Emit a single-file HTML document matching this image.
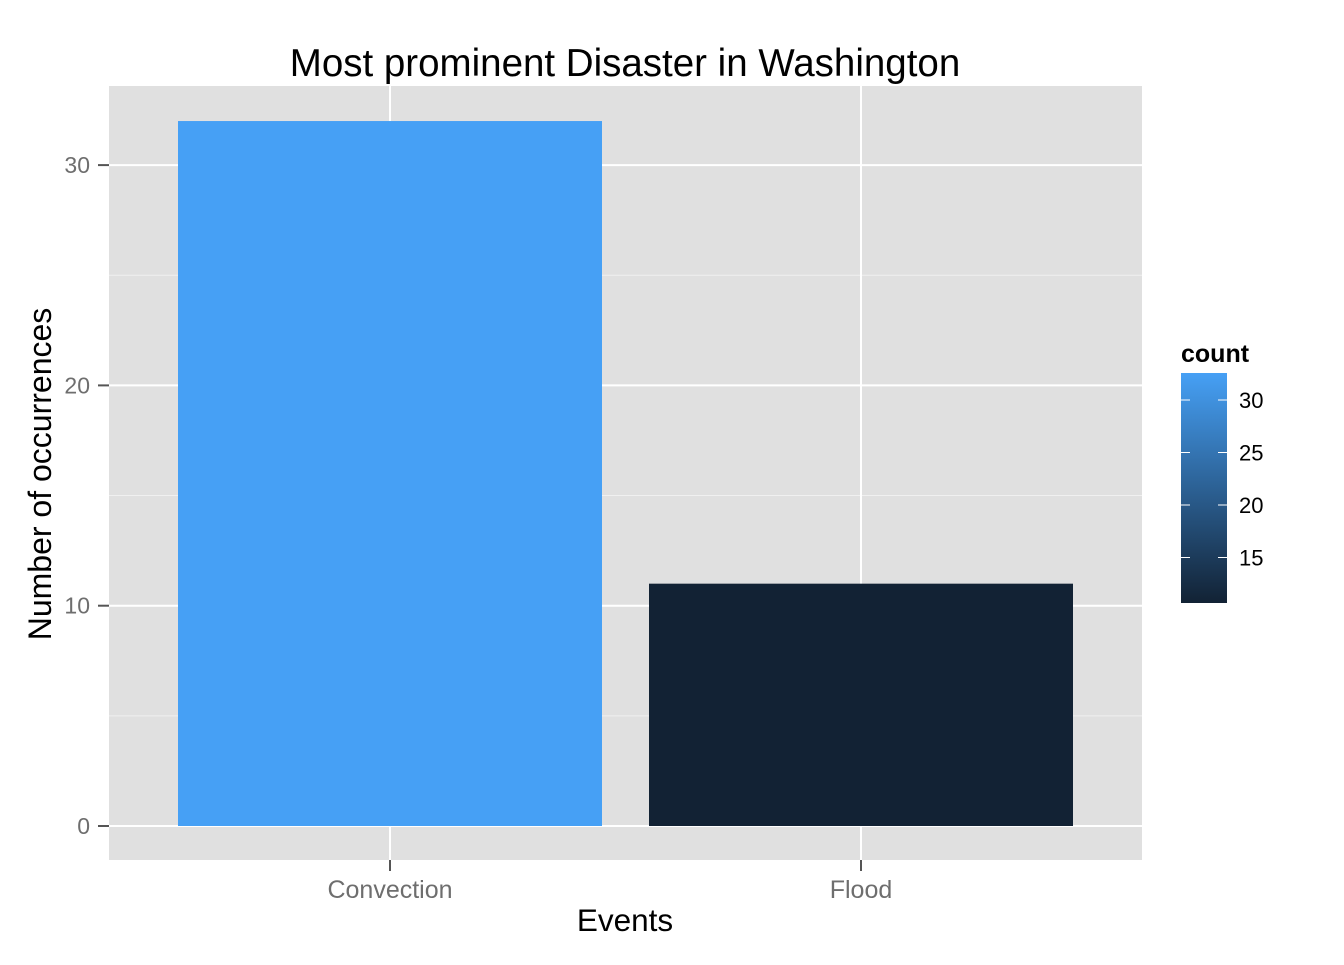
<!DOCTYPE html>
<html><head><meta charset="utf-8"><style>
body{margin:0;background:#fff;}
svg text{font-family:"Liberation Sans",Arial,sans-serif;}
</style></head><body>
<svg id="chart" width="1344" height="960" xmlns="http://www.w3.org/2000/svg">
<defs><linearGradient id="grad" x1="0" y1="1" x2="0" y2="0">
<stop offset="0" stop-color="#122234"/><stop offset="1" stop-color="#46A0F5"/></linearGradient></defs>
<rect x="109" y="86" width="1033" height="774" fill="#E0E0E0"/>
<g id="grid"></g><g id="bars"></g><g id="axes"></g>
<text x="625" y="76" font-size="38.5" text-anchor="middle">Most prominent Disaster in Washington</text>
<text x="625" y="931" font-size="31.5" text-anchor="middle">Events</text>
<text transform="translate(51,474) rotate(-90)" font-size="32" text-anchor="middle">Number of occurrences</text>
<text x="1181" y="362" font-size="25" font-weight="bold">count</text>
<rect x="1181" y="373" width="46" height="230" fill="url(#grad)"/>
<g id="legend"></g>
</svg>
<script>
const categories=["Convection","Flood"];
const counts=[32,11];
const yTicks=[0,10,20,30];
const legendTicks=[15,20,25,30];
const NS="http://www.w3.org/2000/svg";
const y=v=>826-v*22.03;
const x=i=>390+i*471;
const lo=11,hi=32;
function mk(t,a,p){const e=document.createElementNS(NS,t);for(const k in a)e.setAttribute(k,a[k]);p.appendChild(e);return e;}
function col(v){const f=(v-lo)/(hi-lo);const a=[0x12,0x22,0x34],b=[0x46,0xA0,0xF5];return "rgb("+a.map((c,i)=>Math.round(c+(b[i]-c)*f)).join(",")+")";}
const grid=document.getElementById('grid'),bars=document.getElementById('bars'),axes=document.getElementById('axes'),leg=document.getElementById('legend');
for(let i=0;i<yTicks.length;i++){
 const v=yTicks[i];
 if(i<yTicks.length-1){const m=mk('line',{x1:109,x2:1142,y1:y(v+5),y2:y(v+5),stroke:'#F0F0F0','stroke-width':1},grid);
 }
 const g=mk('line',{x1:109,x2:1142,y1:y(v),y2:y(v),stroke:'#fff','stroke-width':2},grid);
 
 const t=mk('line',{x1:98,x2:109,y1:y(v),y2:y(v),stroke:'#555','stroke-width':2},axes);
 
 const l=mk('text',{x:90,y:y(v)+8,'font-size':23,fill:'#6E6E6E','text-anchor':'end'},axes);l.textContent=v;
 
}
categories.forEach((c,i)=>{
 const g=mk('line',{x1:x(i),x2:x(i),y1:86,y2:860,stroke:'#fff','stroke-width':2},grid);
 
 const b=mk('rect',{x:x(i)-212,width:424,y:y(counts[i]),height:y(0)-y(counts[i]),fill:col(counts[i])},bars);
 
 const t=mk('line',{x1:x(i),x2:x(i),y1:860,y2:871,stroke:'#555','stroke-width':2},axes);
 
 const l=mk('text',{x:x(i),y:898,'font-size':25,fill:'#6E6E6E','text-anchor':'middle'},axes);l.textContent=c;
 
});
const ly=v=>400-(v-30)*10.5;
legendTicks.forEach(v=>{
 const a=mk('line',{x1:1181,x2:1190,y1:ly(v),y2:ly(v),stroke:'#fff','stroke-width':1},leg);
 
 const b=mk('line',{x1:1218,x2:1227,y1:ly(v),y2:ly(v),stroke:'#fff','stroke-width':1},leg);
 
 const l=mk('text',{x:1239,y:ly(v)+8,'font-size':22},leg);l.textContent=v;
 
});
</script>
</body></html>
